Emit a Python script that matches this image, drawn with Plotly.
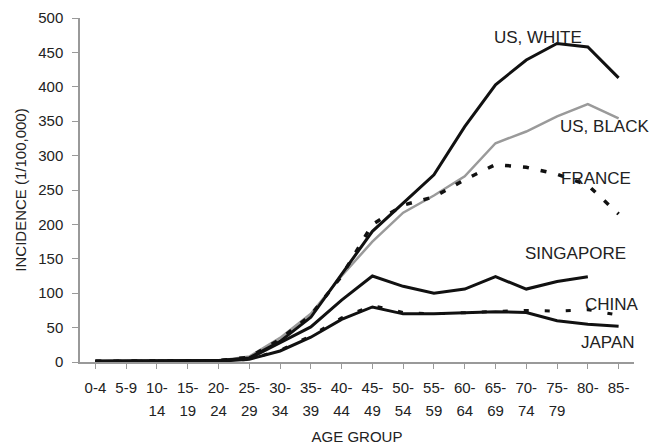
import plotly.graph_objects as go

age_groups = ["0-4", "5-9", "10-14", "15-19", "20-24", "25-29", "30-34", "35-39", "40-44",
              "45-49", "50-54", "55-59", "60-64", "65-69", "70-74", "75-79", "80-84", "85-"]
tick_line1 = ["0-4", "5-9", "10-", "15-", "20-", "25-", "30-", "35-", "40-",
              "45-", "50-", "55-", "60-", "65-", "70-", "75-", "80-", "85-"]
tick_line2 = ["", "", "14", "19", "24", "29", "34", "39", "44",
              "49", "54", "59", "64", "69", "74", "79", "", ""]

us_white = [1, 1, 1, 1, 2, 6, 30, 65, 128, 190, 231, 272, 342, 403, 439, 463, 458, 413]
us_black = [1, 1, 1, 1, 2, 8, 35, 70, 125, 175, 217, 242, 270, 318, 335, 357, 375, 354]
france = [1, 1, 1, 1, 2, 7, 33, 68, 125, 200, 228, 240, 265, 287, 283, 273, 257, 215]
singapore = [1, 1, 1, 1, 2, 5, 28, 51, 90, 125, 110, 100, 106, 124, 106, 117, 124, None]
china = [1, 1, 1, 1, 1, 4, 17, 38, 64, 82, 72, 70, 72, 74, 75, 74, 76, 68]
japan = [1, 1, 1, 1, 1, 4, 16, 36, 62, 80, 70, 70, 72, 73, 72, 60, 55, 52]

labels = ["US, WHITE", "US, BLACK", "FRANCE", "SINGAPORE", "CHINA", "JAPAN"]
label_x = [14.37, 16.55, 16.25, 15.6, 16.8, 16.65]
label_y = [471, 342, 267, 157, 83, 29]

x_idx = list(range(len(age_groups)))
FONT = "Liberation Sans, Arial, sans-serif"

fig = go.Figure()

def add(y, color, width, dash="solid"):
    fig.add_trace(go.Scatter(x=x_idx, y=y, mode="lines",
                             line=dict(color=color, width=width, dash=dash),
                             connectgaps=False, showlegend=False, hoverinfo="skip"))

add(us_black, "#9a9a9a", 2.5)
add(us_white, "#111111", 3)
add(france, "#111111", 3.5, "6px,12px")
add(singapore, "#111111", 3)
add(japan, "#111111", 3)
add(china, "#111111", 3, "5px,16px")

# invisible trace to anchor the second-line tick axis
fig.add_trace(go.Scatter(x=x_idx, y=[None] * len(x_idx), xaxis="x2", mode="lines",
                         showlegend=False, hoverinfo="skip"))

for t, lx, ly in zip(labels, label_x, label_y):
    fig.add_annotation(x=lx, y=ly, xref="x", yref="y", text=t, showarrow=False,
                       font=dict(family=FONT, size=17, color="#222222"))

fig.update_layout(
    width=654, height=447,
    margin=dict(l=80, r=20, t=18, b=85),
    paper_bgcolor="white", plot_bgcolor="white",
    font=dict(family=FONT, size=15, color="#222222"),
    xaxis=dict(
        range=[-0.5, 17.5], tickmode="array", tickvals=x_idx, ticktext=tick_line1,
        showgrid=False, zeroline=False, showline=True, linecolor="#999999", linewidth=1.5,
        ticks="outside", ticklen=5, tickcolor="#999999",
        tickson="boundaries", tickfont=dict(size=15), ticklabelstandoff=6,
        automargin=False,
    ),
    xaxis2=dict(
        range=[-0.5, 17.5], overlaying="x", side="bottom", anchor="y",
        tickmode="array", tickvals=x_idx, ticktext=tick_line2,
        showgrid=False, zeroline=False, showline=False, ticks="",
        tickfont=dict(size=15), ticklabelstandoff=38, automargin=False,
        title=dict(text="AGE GROUP", font=dict(size=15), standoff=13),
    ),
    yaxis=dict(
        range=[0, 500], tickvals=[0, 50, 100, 150, 200, 250, 300, 350, 400, 450, 500],
        showgrid=False, zeroline=False, showline=True, linecolor="#999999", linewidth=1.5,
        ticks="outside", ticklen=6, tickcolor="#999999", tickfont=dict(size=15),
        ticklabelstandoff=6, automargin=False,
        title=dict(text="INCIDENCE (1/100,000)", font=dict(size=15), standoff=8),
    ),
)

fig.write_html("out.html")
